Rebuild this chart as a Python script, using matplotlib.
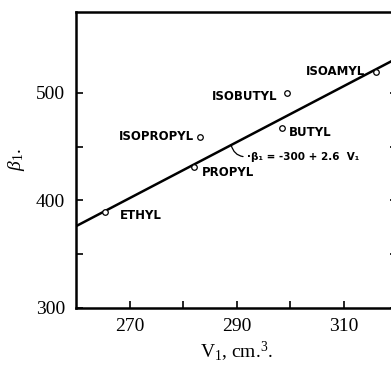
import matplotlib
matplotlib.use("Agg")
import matplotlib.pyplot as plt

# molar volume V1 (cm^3) and beta1 for the alcohols
names = ["ETHYL", "PROPYL", "ISOPROPYL", "BUTYL", "ISOBUTYL", "ISOAMYL"]
v1 = [265.4, 282.0, 283.2, 298.5, 299.4, 316.1]
beta1 = [389, 431, 459, 467, 500, 519]

# fitted line beta1 = -300 + 2.6 V1
fit_a, fit_b = -300, 2.6
fit_v = [260, 320]

plt.rcParams["mathtext.fontset"] = "custom"
plt.rcParams["mathtext.rm"] = "Liberation Serif"
plt.rcParams["mathtext.it"] = "Liberation Serif:italic"

W, H = 391, 366
fig = plt.figure(figsize=(W / 100, H / 100), dpi=100)
ax = fig.add_axes([76 / W, 58 / H, 321 / W, 296 / H])

ax.plot(fit_v, [fit_a + fit_b * v for v in fit_v], color="black", lw=1.8, zorder=2)
ax.plot(v1, beta1, "o", ms=4, mfc="white", mec="black", mew=0.9, zorder=3)

lab = dict(fontsize=8.5, fontweight="bold", family="DejaVu Sans", va="center")
# label offsets (data units) from each point
offs = {
    "ETHYL": (2.8, -3, "left"),
    "PROPYL": (1.6, -5, "left"),
    "ISOPROPYL": (-1.1, 0, "right"),
    "BUTYL": (1.2, -4, "left"),
    "ISOBUTYL": (-1.8, -3.5, "right"),
    "ISOAMYL": (-2.1, 0.5, "right"),
}
for n, x, y in zip(names, v1, beta1):
    dx, dy, ha = offs[n]
    ax.text(x + dx, y + dy, n, ha=ha, **lab)

ax.annotate("\u00b7\u03b2\u2081 = -300 + 2.6  V\u2081", xy=(289.0, fit_a + fit_b * 289.0),
            xytext=(292.0, 440.5), ha="left", va="center",
            fontsize=7.5, fontweight="bold", family="DejaVu Sans",
            arrowprops=dict(arrowstyle="-", lw=0.9, color="black",
                            connectionstyle="arc3,rad=-0.4",
                            relpos=(0, 0.5), shrinkA=1, shrinkB=0))

ax.set_xlim(260, 320)
ax.set_ylim(300, 575)
ax.set_xticks([270, 290, 310])
ax.set_xticks([280, 300], minor=True)
ax.set_yticks([300, 400, 500])
ax.set_yticks([350, 450], minor=True)
ax.tick_params(which="both", direction="in", length=5, width=1.2,
               left=True, right=True, bottom=True, top=False)
ax.tick_params(axis="x", pad=7)
ax.tick_params(axis="y", pad=8)
for t in ax.get_xticklabels() + ax.get_yticklabels():
    t.set_family("Liberation Serif")
    t.set_fontsize(14)
for s in ax.spines.values():
    s.set_linewidth(1.8)

ax.set_xlabel("V$_1$, cm.$^3$.", family="Liberation Serif", fontsize=14, labelpad=4)
ax.set_ylabel("$\\beta_1$.", family="Liberation Serif", fontsize=14, labelpad=6)

fig.savefig("out.png", dpi=100)
